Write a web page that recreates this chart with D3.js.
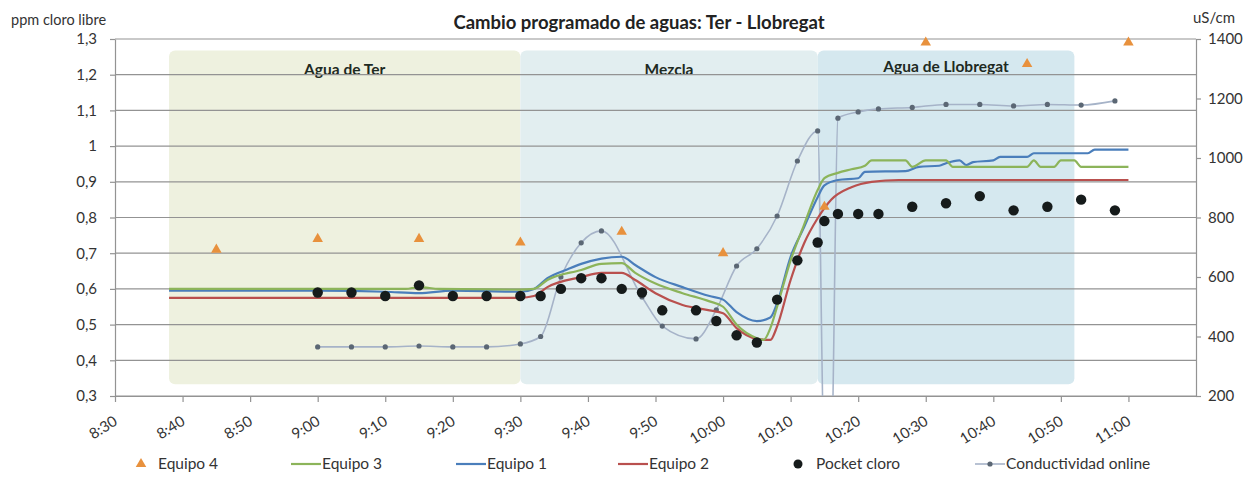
<!DOCTYPE html>
<html>
<head>
<meta charset="utf-8">
<script src="https://cdn.jsdelivr.net/npm/d3@7"></script>
<style>
  body { margin: 0; background: #fff; }
  svg { display: block; font-family: Lato, "Open Sans", sans-serif; }
</style>
</head>
<body>
<svg></svg>
<script>
// times are "H:MM", left axis in ppm, right axis in uS/cm
const leftTicks = [0.3, 0.4, 0.5, 0.6, 0.7, 0.8, 0.9, 1, 1.1, 1.2, 1.3];
const rightTicks = [200, 400, 600, 800, 1000, 1200, 1400];
const timeTicks = ["8:30", "8:40", "8:50", "9:00", "9:10", "9:20", "9:30", "9:40", "9:50",
  "10:00", "10:10", "10:20", "10:30", "10:40", "10:50", "11:00"];

const zoneNames = ["Agua de Ter", "Mezcla", "Agua de Llobregat"];
const zoneStarts = ["8:38", "9:30", "10:14"];
const zoneEnds = ["9:30", "10:14", "10:52"];

const equipo4Times = ["8:45", "9:00", "9:15", "9:30", "9:45", "10:00", "10:15", "10:30", "10:45", "11:00"];
const equipo4Values = [0.71, 0.74, 0.74, 0.73, 0.76, 0.70, 0.83, 1.29, 1.23, 1.29];

const equipo3Times = ["8:38", "9:00", "9:13", "9:15", "9:18", "9:30", "9:32", "9:34", "9:39", "9:42", "9:45",
  "9:47", "9:50", "9:54", "9:58", "10:00", "10:02", "10:05", "10:06", "10:07", "10:08", "10:10", "10:12",
  "10:14", "10:15", "10:17", "10:19", "10:21", "10:22", "10:27", "10:28", "10:30", "10:33", "10:34",
  "10:45", "10:46", "10:47", "10:49", "10:50", "10:52", "10:53", "11:00"];
const equipo3Values = [0.60, 0.60, 0.60, 0.605, 0.60, 0.598, 0.60, 0.625, 0.653, 0.67, 0.672,
  0.645, 0.615, 0.588, 0.565, 0.55, 0.50, 0.462, 0.457, 0.49, 0.55, 0.68, 0.78,
  0.877, 0.91, 0.925, 0.935, 0.945, 0.96, 0.96, 0.942, 0.96, 0.96, 0.942,
  0.942, 0.96, 0.942, 0.942, 0.96, 0.96, 0.942, 0.942];

const equipo1Times = ["8:38", "8:50", "9:00", "9:10", "9:15", "9:20", "9:30", "9:32", "9:34", "9:37", "9:39",
  "9:42", "9:45", "9:47", "9:50", "9:54", "9:58", "10:00", "10:02", "10:05", "10:07", "10:08", "10:10",
  "10:12", "10:14", "10:15", "10:17", "10:20", "10:21", "10:27", "10:29", "10:32", "10:33", "10:35",
  "10:36", "10:37", "10:40", "10:41", "10:45", "10:46", "10:54", "10:55", "11:00"];
const equipo1Values = [0.595, 0.595, 0.595, 0.592, 0.588, 0.595, 0.592, 0.60, 0.63, 0.655, 0.67,
  0.685, 0.69, 0.667, 0.633, 0.605, 0.58, 0.57, 0.535, 0.51, 0.52, 0.56, 0.69,
  0.773, 0.857, 0.89, 0.905, 0.91, 0.928, 0.93, 0.942, 0.945, 0.952, 0.96,
  0.947, 0.955, 0.96, 0.97, 0.97, 0.98, 0.98, 0.99, 0.99];

const equipo2Times = ["8:38", "9:30", "9:32", "9:34", "9:39", "9:42", "9:45", "9:47", "9:50", "9:54", "9:58",
  "10:00", "10:02", "10:05", "10:07", "10:08", "10:10", "10:12", "10:14", "10:16", "10:19", "10:22",
  "10:26", "11:00"];
const equipo2Values = [0.575, 0.575, 0.58, 0.605, 0.633, 0.645, 0.645, 0.625, 0.588, 0.555, 0.54,
  0.532, 0.49, 0.46, 0.457, 0.495, 0.625, 0.728, 0.798, 0.85, 0.885, 0.90,
  0.905, 0.905];

const pocketTimes = ["9:00", "9:05", "9:10", "9:15", "9:20", "9:25", "9:30", "9:33", "9:36", "9:39", "9:42",
  "9:45", "9:48", "9:51", "9:56", "9:59", "10:02", "10:05", "10:08", "10:11", "10:14", "10:15", "10:17",
  "10:20", "10:23", "10:28", "10:33", "10:38", "10:43", "10:48", "10:53", "10:58"];
const pocketValues = [0.59, 0.59, 0.58, 0.61, 0.58, 0.58, 0.58, 0.58, 0.60, 0.63, 0.63,
  0.60, 0.59, 0.54, 0.54, 0.51, 0.47, 0.45, 0.57, 0.68, 0.73, 0.79, 0.81,
  0.81, 0.81, 0.83, 0.84, 0.86, 0.82, 0.83, 0.85, 0.82];

const conductTimes = ["9:00", "9:05", "9:10", "9:15", "9:20", "9:25", "9:30", "9:33", "9:36", "9:39", "9:42",
  "9:48", "9:51", "9:56", "9:59", "10:02", "10:05", "10:08", "10:11", "10:14", "10:15", "10:16", "10:17",
  "10:20", "10:23", "10:28", "10:33", "10:38", "10:43", "10:48", "10:53", "10:58"];
const conductValues = [365, 365, 365, 368, 365, 365, 375, 400, 600, 715, 755,
  533, 435, 392, 490, 637, 695, 805, 990, 1091, 0, 0, 1134,
  1155, 1165, 1170, 1180, 1180, 1175, 1180, 1178, 1192];

const legendNames = ["Equipo 4", "Equipo 3", "Equipo 1", "Equipo 2", "Pocket cloro", "Conductividad online"];

const parseTime = function(s) {
  const parts = s.split(":").map(Number);
  return parts[0] * 60 + parts[1];
};
const formatTime = function(m) {
  return Math.floor(m / 60) + ":" + String(m % 60).padStart(2, "0");
};
const formatPpm = function(v) {
  return String(+v.toFixed(1)).replace(".", ",");
};

const svg = d3.select("svg").attr("width", 1257).attr("height", 478);

const plotLeft = 115, plotRight = 1196, plotTop = 39, plotBottom = 396;

const x = d3.scaleLinear().domain([parseTime("8:30"), parseTime("11:10")]).range([plotLeft, plotRight]);
const yLeft = d3.scaleLinear().domain([0.3, 1.3]).range([plotBottom, plotTop]);
const yRight = d3.scaleLinear().domain([200, 1400]).range([plotBottom, plotTop]);

const colors = {
  equipo4: "#e8913d",
  equipo3: "#8cb45a",
  equipo1: "#4a7ebb",
  equipo2: "#b9504e",
  pocket: "#161b1b",
  conductLine: "#a6b3c8",
  conductDot: "#5b6774"
};
const gridColor = "#939393";

svg.append("clipPath").attr("id", "plot")
  .append("rect").attr("x", plotLeft).attr("y", plotTop - 8)
  .attr("width", plotRight - plotLeft).attr("height", plotBottom - plotTop + 8);

// shaded zones (Ter / mezcla / Llobregat)
const zoneColors = ["#eef1df", "#e2eef0", "#d5e8ef"];
const zones = svg.append("g");
zones.selectAll("rect").data(zoneNames).enter().append("rect")
  .attr("x", (d, i) => x(parseTime(zoneStarts[i])))
  .attr("width", (d, i) => x(parseTime(zoneEnds[i])) - x(parseTime(zoneStarts[i])))
  .attr("y", yLeft(1.268))
  .attr("height", yLeft(0.333) - yLeft(1.268))
  .attr("rx", 6)
  .attr("fill", (d, i) => zoneColors[i]);

// gridlines
svg.append("g").selectAll("line").data(leftTicks).enter().append("line")
  .attr("x1", plotLeft).attr("x2", plotRight)
  .attr("y1", d => yLeft(d)).attr("y2", d => yLeft(d))
  .attr("stroke", gridColor).attr("stroke-width", 1.2);

zones.selectAll("text").data(zoneNames).enter().append("text")
  .attr("x", (d, i) => (x(parseTime(zoneStarts[i])) + x(parseTime(zoneEnds[i]))) / 2)
  .attr("y", (d, i) => i === 2 ? 67 : 70)
  .attr("dy", "0.35em")
  .attr("text-anchor", "middle")
  .style("font-size", "15.5px").style("font-weight", "bold").attr("fill", "#1e2a22")
  .text(d => d);

// axes
const styleAxis = function(g) {
  g.select(".domain").attr("stroke", gridColor).attr("stroke-width", 1.2);
  g.selectAll(".tick line").attr("stroke", gridColor).attr("stroke-width", 1.2);
  g.selectAll("text").attr("fill", "#333").style("font-size", "15px").style("font-family", "Lato, sans-serif");
};

svg.append("g").attr("transform", `translate(${plotLeft},0)`)
  .call(d3.axisLeft(yLeft).tickValues(leftTicks).tickFormat(formatPpm).tickSize(5).tickSizeOuter(0).tickPadding(13))
  .call(styleAxis);

svg.append("g").attr("transform", `translate(${plotRight},0)`)
  .call(d3.axisRight(yRight).tickValues(rightTicks).tickFormat(d3.format("d")).tickSize(5).tickSizeOuter(0).tickPadding(7))
  .call(styleAxis);

const xAxis = svg.append("g").attr("transform", `translate(0,${plotBottom})`)
  .call(d3.axisBottom(x).tickValues(timeTicks.map(parseTime)).tickFormat(formatTime).tickSize(6).tickSizeOuter(0))
  .call(styleAxis);
xAxis.selectAll(".tick text")
  .attr("y", 0).attr("dy", 0)
  .attr("transform", "translate(3,28) rotate(-32)")
  .style("text-anchor", "end");

// series
const plot = svg.append("g").attr("clip-path", "url(#plot)");

const lineLeft = d3.line().curve(d3.curveMonotoneX)
  .x(d => x(parseTime(d[0]))).y(d => yLeft(d[1]));
const lineRight = d3.line().curve(d3.curveMonotoneX)
  .x(d => x(parseTime(d[0]))).y(d => yRight(d[1]));

const conduct = d3.zip(conductTimes, conductValues);
plot.append("path").datum(conduct)
  .attr("d", lineRight).attr("fill", "none")
  .attr("stroke", colors.conductLine).attr("stroke-width", 1.6);
plot.append("g").selectAll("circle").data(conduct).enter().append("circle")
  .attr("cx", d => x(parseTime(d[0]))).attr("cy", d => yRight(d[1]))
  .attr("r", 2.6).attr("fill", colors.conductDot);

const lineSeries = [
  { times: equipo2Times, values: equipo2Values, color: colors.equipo2 },
  { times: equipo1Times, values: equipo1Values, color: colors.equipo1 },
  { times: equipo3Times, values: equipo3Values, color: colors.equipo3 }
];
lineSeries.forEach(function(s) {
  plot.append("path").datum(d3.zip(s.times, s.values))
    .attr("d", lineLeft).attr("fill", "none")
    .attr("stroke", s.color).attr("stroke-width", 2.2);
});

plot.append("g").selectAll("circle").data(d3.zip(pocketTimes, pocketValues)).enter().append("circle")
  .attr("cx", d => x(parseTime(d[0]))).attr("cy", d => yLeft(d[1]))
  .attr("r", 5.2).attr("fill", colors.pocket);

const triangle = d3.symbol().type(d3.symbolTriangle).size(48);
svg.append("g").selectAll("path").data(d3.zip(equipo4Times, equipo4Values)).enter().append("path")
  .attr("d", triangle)
  .attr("transform", d => `translate(${x(parseTime(d[0]))},${yLeft(d[1])})`)
  .attr("fill", colors.equipo4);

// titles
svg.append("text").attr("x", 639).attr("y", 23).attr("dy", "0.35em").attr("text-anchor", "middle")
  .style("font-size", "18.5px").style("font-weight", "bold").attr("fill", "#222")
  .text("Cambio programado de aguas: Ter - Llobregat");
svg.append("text").attr("x", 11).attr("y", 20).attr("dy", "0.35em")
  .style("font-size", "14.5px").attr("fill", "#333").text("ppm cloro libre");
svg.append("text").attr("x", 1193).attr("y", 18).attr("dy", "0.35em")
  .style("font-size", "15px").attr("fill", "#333").text("uS/cm");

// legend
const legendX = [141, 291, 456, 618, 798, 975];
const legendColors = [colors.equipo4, colors.equipo3, colors.equipo1, colors.equipo2, colors.pocket, colors.conductLine];
const legendY = 464;
const legend = svg.append("g");
legendNames.forEach(function(name, i) {
  const lx = legendX[i];
  let textX = lx + 31;
  if (i === 0) {
    legend.append("path").attr("d", triangle)
      .attr("transform", `translate(${lx},${legendY})`).attr("fill", legendColors[i]);
    textX = lx + 17;
  } else if (i === 4) {
    legend.append("circle").attr("cx", lx).attr("cy", legendY).attr("r", 4.5).attr("fill", legendColors[i]);
    textX = lx + 18;
  } else {
    legend.append("line").attr("x1", lx).attr("x2", lx + 30)
      .attr("y1", legendY).attr("y2", legendY)
      .attr("stroke", legendColors[i]).attr("stroke-width", i === 5 ? 1.6 : 2.2);
    if (i === 5) {
      legend.append("circle").attr("cx", lx + 15).attr("cy", legendY).attr("r", 2.6).attr("fill", colors.conductDot);
    }
  }
  legend.append("text").attr("x", textX).attr("y", legendY).attr("dy", "0.35em")
    .style("font-size", "15.5px").attr("fill", "#333").text(name);
});
</script>
</body>
</html>
